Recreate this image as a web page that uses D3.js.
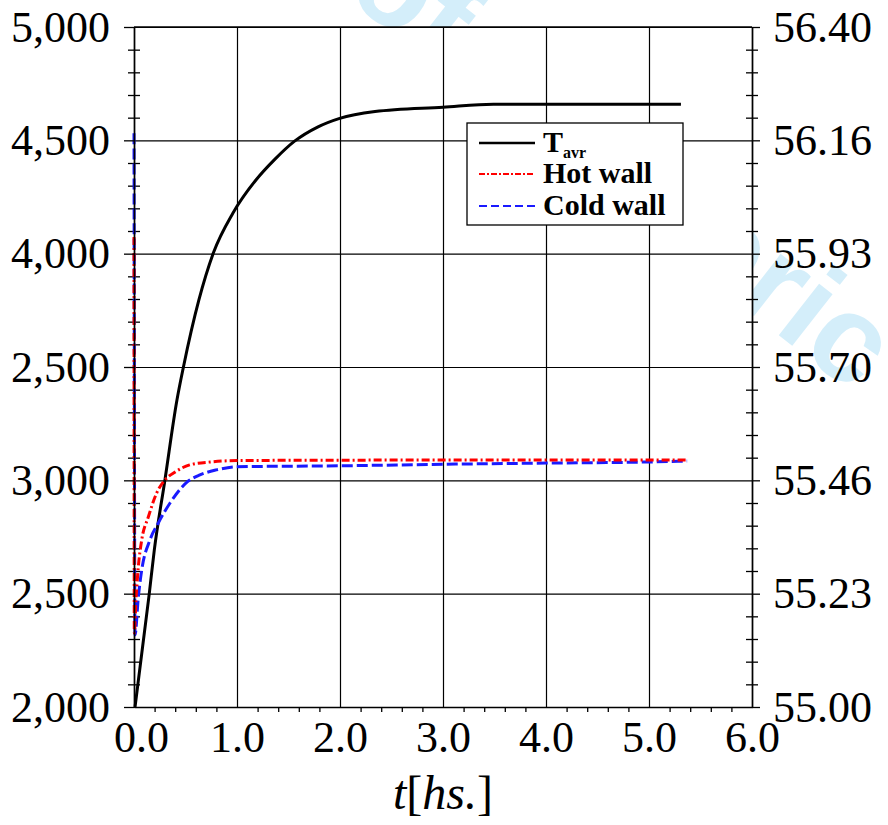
<!DOCTYPE html>
<html>
<head>
<meta charset="utf-8">
<script src="https://cdn.jsdelivr.net/npm/d3@7"></script>
<style>
body { margin: 0; background: #fff; }
text { font-family: "Liberation Serif", "DejaVu Serif", serif; fill: #000; }
</style>
</head>
<body>
<svg id="myGraph" width="888" height="825"></svg>
<script>
// tick values + labels (left labels copied as printed)
var xTicks = [0, 1, 2, 3, 4, 5, 6];
var xTickLabels = ["0.0", "1.0", "2.0", "3.0", "4.0", "5.0", "6.0"];
var yLeftTicks = [2000, 2500, 3000, 3500, 4000, 4500, 5000];
var yLeftLabels = ["2,000", "2,500", "3,000", "2,500", "4,000", "4,500", "5,000"];
var yRightTicks = [55.00, 55.2333, 55.4667, 55.70, 55.9333, 56.1667, 56.40];
var yRightLabels = ["55.00", "55.23", "55.46", "55.70", "55.93", "56.16", "56.40"];

// T_avr (right axis)
var tAvrX = [0.01, 0.148, 0.197, 0.30, 0.417, 0.48, 0.63, 0.771, 0.961, 1.184, 1.369, 1.559, 1.782, 1.997, 2.34, 3.0, 3.49, 5.31];
var tAvrY = [55.000, 55.233, 55.323, 55.467, 55.632, 55.700, 55.838, 55.935, 56.017, 56.085, 56.128, 56.165, 56.194, 56.212, 56.226, 56.235, 56.241, 56.241];

// hot wall (left axis)
var hotX = [0.0, 0.003, 0.019, 0.042, 0.075, 0.139, 0.22, 0.30, 0.40, 0.54, 0.74, 1.0, 2.0, 5.37];
var hotY = [4074, 2326, 2472, 2618, 2737, 2838, 2944, 3001, 3037, 3068, 3081, 3087, 3089, 3090];

// cold wall (left axis)
var coldX = [0.0, 0.01, 0.042, 0.075, 0.155, 0.236, 0.35, 0.517, 0.64, 0.80, 1.0, 2.0, 3.0, 4.0, 5.0, 5.37];
var coldY = [4531, 2318, 2485, 2604, 2737, 2812, 2900, 2993, 3024, 3046, 3060, 3064, 3071, 3076, 3081, 3085];

var padL = 134, padT = 27, width = 618, height = 680;
var svg = d3.select("#myGraph");

// faint watermark behind the figure
svg.append("text")
  .attr("transform", "translate(343,-5) rotate(38)")
  .style("font-family", "'Liberation Sans', Arial, sans-serif")
  .style("font-weight", "bold")
  .style("font-size", "124px")
  .style("fill", "#d4eefa")
  .text("of Numeric");

var g = svg.append("g").attr("transform", "translate(" + padL + "," + padT + ")");

g.append("rect").attr("width", width).attr("height", height).attr("fill", "#fff");

var x = d3.scaleLinear().domain([0, 6]).range([0, width]);
var yL = d3.scaleLinear().domain([2000, 5000]).range([height, 0]);
var yR = d3.scaleLinear().domain([55.0, 56.4]).range([height, 0]);

//grid
g.append("g")
  .call(d3.axisLeft(yL).tickValues(yLeftTicks).tickSize(-width).tickFormat(""))
  .call(function(s){ s.select(".domain").remove(); })
  .selectAll("line").attr("stroke", "#000").attr("stroke-width", 1.2);
g.append("g")
  .attr("transform", "translate(0," + height + ")")
  .call(d3.axisBottom(x).tickValues(xTicks).tickSize(-height).tickFormat(""))
  .call(function(s){ s.select(".domain").remove(); })
  .selectAll("line").attr("stroke", "#000").attr("stroke-width", 1.2);

// minor ticks
var minorY = d3.range(2100, 5000, 100).filter(function(d){ return d % 500 != 0; });
var mL = g.append("g").call(d3.axisLeft(yL).tickValues(minorY).tickSize(6).tickFormat(""));
mL.select(".domain").remove();
mL.selectAll(".tick line").attr("x1", 6).attr("x2", -6).attr("stroke", "#000").attr("stroke-width", 1.3);
var mR = g.append("g").attr("transform", "translate(" + width + ",0)")
  .call(d3.axisRight(yL).tickValues(minorY).tickSize(6).tickFormat(""));
mR.select(".domain").remove();
mR.selectAll(".tick line").attr("x1", -6).attr("x2", 6).attr("stroke", "#000").attr("stroke-width", 1.3);
var minorX = d3.range(0.2, 6, 0.2).filter(function(d){ return Math.abs(d - Math.round(d)) > 0.01; });
var mB = g.append("g").attr("transform", "translate(0," + height + ")")
  .call(d3.axisBottom(x).tickValues(minorX).tickSize(5).tickFormat(""));
mB.select(".domain").remove();
mB.selectAll(".tick line").attr("stroke", "#000").attr("stroke-width", 1.3);

// lines
function pts(xs, ys){ return xs.map(function(d, i){ return [d, ys[i]]; }); }

var lineL = d3.line().x(function(d){ return x(d[0]); }).y(function(d){ return yL(d[1]); }).curve(d3.curveMonotoneX);
var lineR = d3.line().x(function(d){ return x(d[0]); }).y(function(d){ return yR(d[1]); }).curve(d3.curveMonotoneX);

g.append("path").datum(pts(tAvrX, tAvrY))
  .attr("d", lineR).attr("fill", "none").attr("stroke", "#000").attr("stroke-width", 3);
g.append("path").datum(pts(coldX, coldY))
  .attr("d", lineL).attr("fill", "none").attr("stroke", "#1a1aff").attr("stroke-width", 3)
  .attr("stroke-dasharray", "11,4");
g.append("path").datum(pts(hotX, hotY))
  .attr("d", lineL).attr("fill", "none").attr("stroke", "#ff0000").attr("stroke-width", 3)
  .attr("stroke-dasharray", "8,3,2,3");

// axes
var axL = g.append("g")
  .call(d3.axisLeft(yL).tickValues(yLeftTicks).tickSizeInner(10).tickSizeOuter(0).tickPadding(14)
    .tickFormat(function(d, i){ return yLeftLabels[i]; }));
var axR = g.append("g").attr("transform", "translate(" + width + ",0)")
  .call(d3.axisRight(yR).tickValues(yRightTicks).tickSizeInner(8).tickSizeOuter(0).tickPadding(13)
    .tickFormat(function(d, i){ return yRightLabels[i]; }));
var axB = g.append("g").attr("transform", "translate(0," + height + ")")
  .call(d3.axisBottom(x).tickValues(xTicks).tickSizeInner(0).tickSizeOuter(0).tickPadding(14)
    .tickFormat(function(d, i){ return xTickLabels[i]; }));
axB.selectAll(".tick text").attr("dx", function(d, i){ return i == 0 ? 7 : 0; });

[axL, axR, axB].forEach(function(a){
  a.select(".domain").attr("stroke", "#000").attr("stroke-width", 1.6);
  a.selectAll(".tick line").attr("stroke", "#000").attr("stroke-width", 1.3);
  a.selectAll(".tick text").style("font-size", "44px").style("font-family", "'Liberation Serif', serif").attr("fill", "#000");
});
// top border
g.append("line").attr("x1", 0).attr("x2", width).attr("y1", 0).attr("y2", 0)
  .attr("stroke", "#000").attr("stroke-width", 1.3);

// axis title
var title = svg.append("text").attr("x", 443).attr("y", 809)
  .attr("text-anchor", "middle").style("font-size", "48px");
title.append("tspan").style("font-style", "italic").text("t");
title.append("tspan").text("[");
title.append("tspan").style("font-style", "italic").text("hs.");
title.append("tspan").text("]");

// legend
var lg = svg.append("g");
lg.append("rect").attr("x", 467).attr("y", 123).attr("width", 216).attr("height", 102)
  .attr("fill", "#fff").attr("stroke", "#000").attr("stroke-width", 1.3);
var legendNames = ["T", "Hot wall", "Cold wall"];
var legendColors = ["#000", "#ff0000", "#1a1aff"];
var legendDash = [null, "6,2,2,2", "8,4"];
var legendY = [143, 174, 206];
legendNames.forEach(function(name, i){
  lg.append("line").attr("x1", 479).attr("x2", 535).attr("y1", legendY[i]).attr("y2", legendY[i])
    .attr("stroke", legendColors[i]).attr("stroke-width", i == 0 ? 2.5 : 2.2)
    .attr("stroke-dasharray", legendDash[i]);
  var t = lg.append("text").attr("x", 543).attr("y", legendY[i] + 9)
    .style("font-size", "30px").style("font-weight", "bold").text(name);
  if (i == 0) {
    t.append("tspan").attr("dy", 6).style("font-size", "16px").text("avr");
  }
});
</script>
</body>
</html>
